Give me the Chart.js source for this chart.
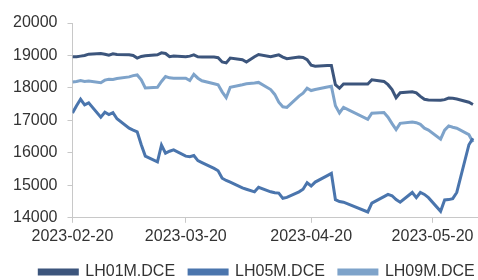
<!DOCTYPE html>
<html>
<head>
<meta charset="utf-8">
<script src="https://cdn.jsdelivr.net/npm/chart.js@4"></script>
<style>
  html, body { margin: 0; padding: 0; background: #fff; }
  #wrap { width: 478px; height: 280px; }
</style>
</head>
<body>
<div id="wrap"><canvas id="lhChart"></canvas></div>
<script>
// trading days shown on the chart
const tradeDates = [
    '2023-02-20','2023-02-21','2023-02-22','2023-02-23','2023-02-24',
    '2023-02-27','2023-02-28','2023-03-01','2023-03-02','2023-03-03',
    '2023-03-06','2023-03-07','2023-03-08','2023-03-09','2023-03-10',
    '2023-03-13','2023-03-14','2023-03-15','2023-03-16','2023-03-17',
    '2023-03-20','2023-03-21','2023-03-22','2023-03-23','2023-03-24',
    '2023-03-27','2023-03-28','2023-03-29','2023-03-30','2023-03-31',
    '2023-04-03','2023-04-04','2023-04-06','2023-04-07',
    '2023-04-10','2023-04-11','2023-04-12','2023-04-13','2023-04-14',
    '2023-04-17','2023-04-18','2023-04-19','2023-04-20','2023-04-21',
    '2023-04-24','2023-04-25','2023-04-26','2023-04-27','2023-04-28',
    '2023-05-04','2023-05-05',
    '2023-05-08','2023-05-09','2023-05-10','2023-05-11','2023-05-12',
    '2023-05-15','2023-05-16','2023-05-17','2023-05-18','2023-05-19',
    '2023-05-22','2023-05-23','2023-05-24','2023-05-25','2023-05-26',
    '2023-05-29','2023-05-30'
];

const lh01 = [
    18960,18960,18980,19000,19040,
    19060,19040,19010,19050,19030,
    19020,19000,18920,18970,18990,
    19020,19080,19060,18960,18980,
    18960,18980,19020,18960,18950,
    18950,18930,18800,18770,18920,
    18870,18800,18960,19030,
    18960,18990,19020,18950,18900,
    18950,18940,18870,18700,18670,
    18690,18690,18100,17990,18120,
    18120,18250,
    18200,18100,17950,17700,17850,
    17880,17850,17740,17650,17630,
    17620,17640,17690,17680,17660,
    17560,17490
];

const lh05 = [
    17230,17450,17650,17480,17540,
    17100,17250,17180,17240,17050,
    16760,16700,16650,16250,15900,
    15720,16240,15990,16050,16090,
    15900,15880,15920,15760,15700,
    15520,15450,15220,15150,15100,
    14920,14880,14800,14940,
    14800,14770,14760,14600,14630,
    14800,14880,15080,14980,15100,
    15300,15370,14560,14500,14480,
    14180,14450,
    14650,14720,14680,14560,14480,
    14780,14620,14780,14720,14620,
    14200,14550,14560,14590,14780,
    16250,16450
];

const lh09 = [
    18180,18200,18230,18200,18210,
    18160,18240,18270,18260,18290,
    18340,18380,18400,18250,18000,
    18020,18200,18350,18310,18300,
    18300,18230,18420,18300,18220,
    18130,18100,17880,17700,18020,
    18100,18130,18150,18170,
    17950,17800,17560,17420,17400,
    17750,17840,17990,17920,17950,
    18030,18050,17450,17230,17400,
    17030,17220,
    17240,17100,16900,16720,16910,
    16950,16930,16880,16760,16700,
    16420,16700,16830,16790,16760,
    16560,16330
];

const tickDates = ['2023-02-20', '2023-03-20', '2023-04-20', '2023-05-20'];
const yTicks = [14000, 15000, 16000, 17000, 18000, 19000, 20000];

const DAY = 86400000;
const baseTime = Date.parse(tradeDates[0]);
const toDay = d => Math.round((Date.parse(d) - baseTime) / DAY);
const fromDay = v => new Date(baseTime + v * DAY).toISOString().slice(0, 10);

function points(values) {
    return values.map((v, i) => ({ x: toDay(tradeDates[i]), y: v }));
}

const textColor = '#333333';
const axisColor = '#c8c8c8';
const font = { family: "'Liberation Sans', Arial, sans-serif", size: 16 };

// nudge the legend: a bit less height, shifted right like the original
const legendTweak = {
    id: 'legendTweak',
    beforeInit(chart) {
        const fit = chart.legend.fit;
        chart.legend.fit = function () {
            fit.call(this);
            this.height -= 10;
        };
    },
    afterLayout(chart) {
        chart.legend.left += 17;
        chart.legend.right += 17;
    }
};

const ctx = document.getElementById('lhChart').getContext('2d');
new Chart(ctx, {
    type: 'line',
    data: {
        datasets: [
            { label: 'LH01M.DCE', data: points(lh01), borderColor: '#3c557c', backgroundColor: '#3c557c' },
            { label: 'LH05M.DCE', data: points(lh05), borderColor: '#4a75ad', backgroundColor: '#4a75ad' },
            { label: 'LH09M.DCE', data: points(lh09), borderColor: '#7ea3ca', backgroundColor: '#7ea3ca' }
        ]
    },
    options: {
        responsive: true,
        maintainAspectRatio: false,
        animation: false,
        elements: {
            point: { radius: 0 },
            line: { borderWidth: 3, tension: 0 }
        },
        layout: { padding: { top: 23, right: 1, left: 3, bottom: 0 } },
        scales: {
            x: {
                type: 'linear',
                min: 0,
                max: 100,
                afterBuildTicks: scale => {
                    scale.ticks = tickDates.map(d => ({ value: toDay(d) }));
                },
                ticks: {
                    autoSkip: false,
                    maxRotation: 0,
                    color: textColor,
                    font: font,
                    padding: 4,
                    callback: v => fromDay(v)
                },
                grid: { drawOnChartArea: false, tickLength: 5, color: axisColor },
                border: { color: axisColor }
            },
            y: {
                min: 14000,
                max: 20000,
                afterBuildTicks: scale => {
                    scale.ticks = yTicks.map(v => ({ value: v }));
                },
                ticks: { color: textColor, font: font, padding: 10, callback: v => String(v) },
                grid: { drawOnChartArea: false, tickLength: 5, color: axisColor },
                border: { color: axisColor }
            }
        },
        plugins: {
            legend: {
                position: 'bottom',
                labels: {
                    boxWidth: 38,
                    boxHeight: 4,
                    color: textColor,
                    font: font,
                    padding: 14
                }
            },
            tooltip: { enabled: false }
        }
    },
    plugins: [legendTweak]
});
</script>
</body>
</html>
